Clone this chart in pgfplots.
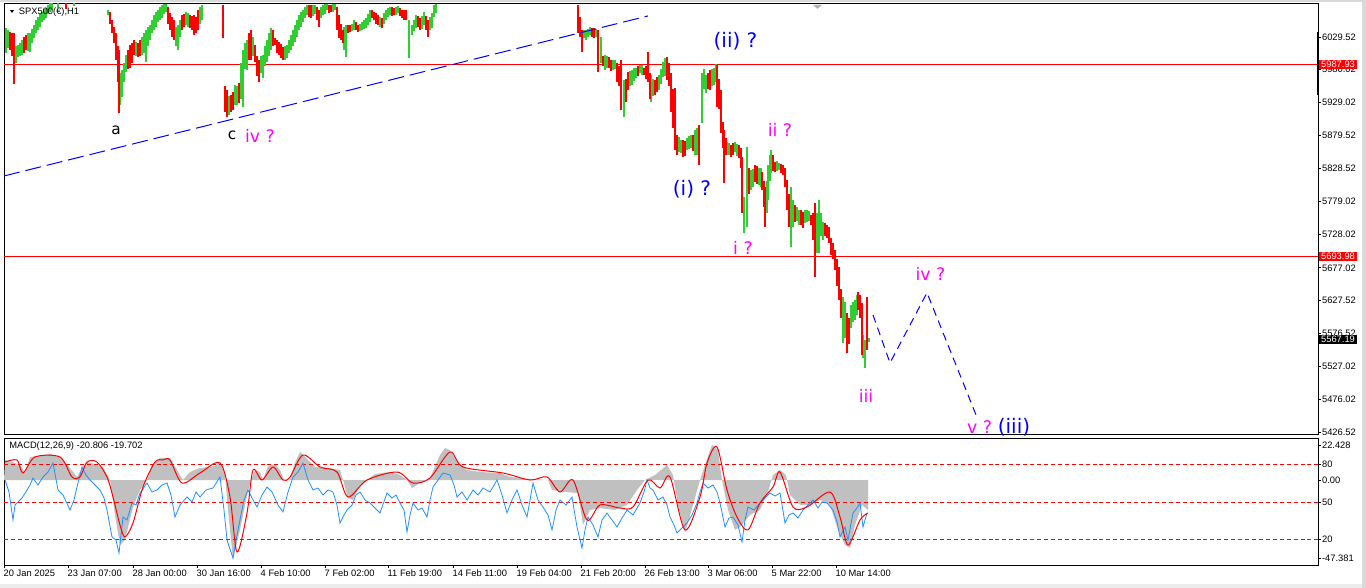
\documentclass[border=0pt]{standalone}
\usepackage{pgfplots}
\pgfplotsset{compat=1.18}
\usepackage{pgfplotstable}
\usepackage{fontspec}
\setmainfont{Liberation Sans}
\newfontfamily\dv{DejaVu Sans}
\definecolor{upg}{RGB}{50,205,50}
\definecolor{dnr}{RGB}{255,0,0}
\definecolor{hist}{RGB}{192,192,192}
\definecolor{macdblue}{RGB}{30,144,255}
\definecolor{wblue}{RGB}{0,0,255}
\definecolor{mag}{RGB}{255,0,255}
\newcommand{\tf}{\fontsize{7}{8}\selectfont}

% price bars (x in chart pixels, low and high prices)
\pgfplotstableread{
x lo hi
6 6005 6043
8 6012 6040
16 5990 6015
18 5999 6017
20 6000 6020
22 6002 6025
28 6008 6035
30 6007 6036
32 6020 6042
34 6028 6048
36 6035 6055
38 6040 6060
40 6045 6064
42 6052 6068
44 6055 6072
46 6059 6074
48 6064 6078
50 6068 6081
52 6070 6082
58 6074 6083
74 6077 6083
108 6063 6071
120 5925 5975
122 5938 5979
124 5960 5990
126 5976 6002
136 6000 6022
142 6002 6030
144 6005 6035
146 5991 6040
148 6015 6045
150 6025 6048
152 6035 6055
154 6040 6063
156 6045 6068
158 6052 6071
160 6055 6075
162 6059 6078
164 6065 6080
166 6068 6080
176 6015 6045
178 6010 6048
180 6030 6055
186 6048 6068
188 6045 6066
200 6050 6075
202 6055 6078
229 5910 5940
235 5926 5956
237 5925 5955
241 5935 5990
243 5923 6010
245 5980 6020
247 5979 6025
253 6000 6030
261 5975 6000
263 5967 6002
265 5985 6015
267 5991 6025
269 6000 6035
271 6010 6043
285 5995 6015
287 5997 6017
289 6005 6025
291 6010 6033
293 6015 6040
295 6022 6048
297 6030 6055
299 6040 6063
301 6045 6068
303 6052 6071
305 6058 6076
307 6063 6078
313 6062 6078
315 6065 6078
321 6058 6075
323 6063 6078
325 6065 6080
327 6071 6080
333 6068 6080
335 6071 6080
344 6010 6045
346 5999 6048
352 6038 6050
354 6040 6055
360 6038 6050
362 6040 6052
364 6042 6056
366 6043 6059
368 6048 6064
370 6052 6071
380 6045 6060
384 6050 6066
386 6055 6071
388 6060 6073
390 6063 6075
396 6063 6076
398 6066 6077
409 5997 6055
412 6033 6048
414 6038 6055
416 6043 6063
422 6042 6062
424 6048 6068
430 6040 6060
432 6043 6066
434 6060 6078
436 6066 6080
584 6028 6040
586 6025 6040
588 6030 6042
590 6033 6045
596 6030 6042
601 5990 6030
605 5979 6002
607 5982 6000
613 5979 5994
615 5980 5995
624 5907 5964
630 5955 5978
632 5956 5979
634 5962 5982
636 5967 5982
640 5975 5987
642 5972 5986
651 5930 5971
653 5940 5965
659 5949 5971
661 5958 5980
663 5968 5991
665 5970 5998
679 5854 5877
681 5852 5872
687 5857 5875
689 5858 5878
691 5860 5880
695 5849 5888
697 5850 5890
702 5898 5975
704 5950 5980
706 5944 5971
712 5955 5980
714 5956 5982
716 5960 5988
727 5849 5869
729 5850 5868
735 5854 5869
737 5848 5866
744 5730 5785
747 5739 5862
751 5796 5826
753 5800 5828
759 5804 5830
761 5800 5830
767 5760 5810
768 5781 5834
770 5810 5850
771 5822 5857
777 5825 5840
779 5826 5837
791 5709 5801
793 5740 5780
797 5748 5770
799 5743 5765
805 5745 5765
807 5747 5765
809 5748 5764
817 5700 5760
819 5700 5781
821 5725 5760
823 5720 5747
843 5562 5633
845 5570 5625
851 5585 5620
853 5595 5625
855 5597 5628
857 5605 5635
863 5540 5575
865 5524 5567
869 5564 5570
}\upbars

\pgfplotstableread{
x lo hi
10 6010 6037
12 6000 6035
14 5958 6036
24 6005 6030
26 6010 6033
66 6072 6081
110 6050 6068
112 6036 6055
114 6020 6045
116 5994 6036
118 5960 6015
119 5913 6010
128 5980 6010
130 5982 6017
132 5990 6020
134 6002 6025
138 5999 6020
140 6000 6025
168 6050 6075
170 6040 6066
172 6030 6060
174 6025 6055
182 6040 6063
184 6045 6065
190 6043 6063
192 6040 6062
194 6033 6063
196 6035 6060
198 6040 6071
223 6028 6078
225 5915 5955
227 5907 5949
231 5915 5941
233 5918 5945
239 5929 5959
249 5995 6035
251 5994 6040
255 5991 6017
257 5970 6000
259 5961 5994
273 6015 6040
275 6017 6028
277 6005 6025
279 6002 6022
281 5998 6018
283 5994 6014
309 6060 6078
311 6059 6078
317 6055 6075
319 6045 6071
329 6066 6078
331 6068 6078
337 6040 6075
339 6028 6063
341 6025 6050
343 6020 6040
348 6035 6048
350 6037 6048
356 6040 6052
358 6037 6048
372 6058 6070
374 6055 6068
376 6050 6066
378 6048 6063
382 6043 6059
392 6062 6075
394 6063 6074
400 6062 6074
402 6059 6071
404 6055 6070
406 6055 6071
418 6045 6062
420 6040 6059
426 6040 6062
428 6030 6055
578 6036 6078
580 6030 6060
582 6007 6040
592 6030 6043
594 6028 6043
598 5976 6040
603 5985 6000
609 5982 5999
611 5978 5995
617 5961 5990
619 5955 5985
621 5918 5994
626 5930 5965
628 5949 5976
638 5970 5985
644 5971 5982
646 5965 5985
648 5961 6007
650 5935 5975
655 5941 5964
657 5945 5968
667 5964 5999
669 5955 5990
671 5915 5975
673 5890 5950
675 5857 5952
677 5850 5880
683 5846 5872
685 5848 5870
693 5855 5880
699 5834 5895
708 5950 5975
710 5949 5979
717 5923 5987
719 5920 5965
721 5883 5949
723 5860 5900
724 5807 5888
726 5850 5875
731 5846 5865
733 5850 5868
739 5845 5865
741 5830 5860
742 5761 5846
749 5790 5830
755 5808 5834
757 5805 5832
762 5796 5823
764 5770 5810
765 5739 5801
773 5825 5850
775 5823 5839
781 5822 5836
783 5819 5834
785 5800 5830
787 5765 5811
789 5740 5790
795 5747 5773
801 5742 5765
803 5738 5762
811 5743 5758
813 5720 5760
815 5663 5776
825 5725 5745
827 5723 5743
829 5715 5740
831 5697 5723
833 5690 5715
835 5674 5704
837 5650 5690
839 5628 5678
841 5600 5645
847 5547 5608
849 5560 5600
858 5613 5640
860 5600 5635
862 5544 5623
867 5552 5633
}\dnbars

\begin{document}
\begin{tikzpicture}
\useasboundingbox (0,0) rectangle (1024.5pt,-441pt);
\fill[gray!30] (0,0) rectangle (1024.5pt,-1.2pt);
\fill[gray!15] (0,-438pt) rectangle (1024.5pt,-441pt);
\fill[gray!30] (1021.5pt,0) rectangle (1024.5pt,-441pt);

% ---------------- main price panel ----------------
\begin{axis}[
  at={(3pt,-3pt)}, anchor=north west, scale only axis,
  width=985.5pt, height=323.25pt,
  xmin=4, xmax=1318, ymin=5421.9, ymax=6079.9,
  clip mode=individual,
  axis line style={black, line width=0.75pt},
  xtick=\empty,
  ytick pos=right, yticklabel pos=right,
  ytick={6029.52,5980.02,5929.02,5879.52,5828.52,5779.02,5728.02,5677.02,5627.52,5576.52,5527.02,5476.02,5426.52},
  yticklabels={6029.52,5980.02,5929.02,5879.52,5828.52,5779.02,5728.02,5677.02,5627.52,5576.52,5527.02,5476.02,5426.52},
  tick align=outside, major tick length=2.25pt,
  tick style={black, line width=0.6pt},
  yticklabel style={font=\tf, anchor=west, inner sep=0.6pt},
  barstyle/.style={only marks, mark=*, mark size=0pt,
     mark options={draw opacity=0, fill opacity=0}, forget plot},
]
\addplot[dnr, line width=0.75pt, forget plot] coordinates {(4,5987.93) (1318,5987.93)};
\addplot[dnr, line width=0.75pt, forget plot] coordinates {(4,5693.98) (1318,5693.98)};
\addplot[hist, line width=0.75pt, forget plot] coordinates {(4,5567.19) (1318,5567.19)};

\addplot[barstyle,
  error bars/.cd, y dir=plus, y explicit, error mark=none,
  error bar style={line width=1.35pt, draw=upg}]
  table[x=x, y=lo, y error plus expr=\thisrow{hi}-\thisrow{lo}] {\upbars};
\addplot[barstyle,
  error bars/.cd, y dir=plus, y explicit, error mark=none,
  error bar style={line width=1.35pt, draw=dnr}]
  table[x=x, y=lo, y error plus expr=\thisrow{hi}-\thisrow{lo}] {\dnbars};

\addplot[wblue, line width=0.75pt, dash pattern=on 12pt off 4.5pt, forget plot]
  coordinates {(4,5817.3) (648,6061.6)};
\addplot[wblue, line width=0.75pt, dash pattern=on 6pt off 4pt, forget plot]
  coordinates {(873,5605) (890,5532) (927,5639) (976,5452.5)};

\node[anchor=base, font=\dv\fontsize{11.5}{13}\selectfont] at (axis cs:116,5879.9) {a};
\node[anchor=base, font=\dv\fontsize{11.5}{13}\selectfont] at (axis cs:232,5872.3) {c};
\node[anchor=base, text=mag, font=\dv\fontsize{13}{15}\selectfont] at (axis cs:260,5867.7) {iv ?};
\node[anchor=base, text=wblue, font=\dv\fontsize{15}{17}\selectfont] at (axis cs:735.5,6012.7) {(ii) ?};
\node[anchor=base, text=wblue, font=\dv\fontsize{15}{17}\selectfont] at (axis cs:692,5786.8) {(i) ?};
\node[anchor=base, text=mag, font=\dv\fontsize{13}{15}\selectfont] at (axis cs:780,5876.9) {ii ?};
\node[anchor=base, text=mag, font=\dv\fontsize{13}{15}\selectfont] at (axis cs:743,5696.7) {i ?};
\node[anchor=base, text=mag, font=\dv\fontsize{13}{15}\selectfont] at (axis cs:866,5470.8) {iii};
\node[anchor=base, text=mag, font=\dv\fontsize{13}{15}\selectfont] at (axis cs:930.5,5657) {iv ?};
\node[anchor=base, text=mag, font=\dv\fontsize{13}{15}\selectfont] at (axis cs:979.5,5423.5) {v ?};
\node[anchor=base, text=wblue, font=\dv\fontsize{15}{17}\selectfont] at (axis cs:1014,5423.5) {(iii)};

\draw[line width=2.2pt] (axis cs:1318,6037.1) -- (axis cs:1318,5941.0);
\fill[gray!60] (axis cs:813,6078.4) -- (axis cs:822,6078.4) -- (axis cs:817.5,6072.3) -- cycle;

\node[fill=dnr, text=white, anchor=west, inner xsep=1.4pt, inner ysep=0.8pt, text height=5pt, text depth=0.4pt, font=\tf] at (axis cs:1319,5987.93) {5987.93};
\node[fill=dnr, text=white, anchor=west, inner xsep=1.4pt, inner ysep=0.8pt, text height=5pt, text depth=0.4pt, font=\tf] at (axis cs:1319,5693.98) {5693.98};
\node[fill=black, text=white, anchor=west, inner xsep=1.4pt, inner ysep=0.8pt, text height=5pt, text depth=0.4pt, font=\tf] at (axis cs:1319,5567.19) {5567.19};
\end{axis}

\fill (7.5pt,-7.6pt) -- (10.5pt,-7.6pt) -- (9pt,-9.8pt) -- cycle;
\node[anchor=west, inner sep=0pt, font=\tf] at (14pt,-9pt) {SPX500(€),H1};

% ---------------- MACD panel ----------------
\begin{axis}[
  at={(3pt,-328.5pt)}, anchor=north west, scale only axis,
  width=985.5pt, height=95.25pt,
  xmin=4, xmax=1318, ymin=-85, ymax=42,
  clip mode=individual,
  axis line style={black, line width=0.75pt},
  xtick={4,68,133,197,261,325,388,453,517,581,645,708,772,836},
  xticklabels={20 Jan 2025,23 Jan 07:00,28 Jan 00:00,30 Jan 16:00,4 Feb 10:00,7 Feb 02:00,11 Feb 19:00,14 Feb 11:00,19 Feb 04:00,21 Feb 20:00,26 Feb 13:00,3 Mar 06:00,5 Mar 22:00,10 Mar 14:00},
  xtick pos=bottom,
  xticklabel style={font=\tf, anchor=north west, inner sep=0pt, yshift=-1.2pt, xshift=-0.4pt},
  ytick pos=right, yticklabel pos=right,
  ytick={35,16,0,-22,-59,-78},
  yticklabels={22.428,80,0.00,50,20,-47.381},
  yticklabel style={font=\tf, anchor=west, inner sep=0.6pt},
  tick align=outside, major tick length=2.25pt,
  tick style={black, line width=0.6pt},
]
\addplot[fill=hist, draw=none, forget plot] coordinates {
(4,0) (5,20) (15,17) (20,15) (25,7) (30,23) (45,25) (50,26) (60,23) (70,12) (77,3) (82,12) (87,18) (95,16) (103,13) (110,0)
(115,-35) (120,-65) (125,-60) (133,-27) (140,-10) (147,0) (152,15) (160,22) (170,22) (177,10) (183,0) (190,8) (200,12)
(215,14) (220,18) (225,5) (228,-30) (233,-80) (240,-50) (247,-15) (251,0) (255,10) (260,8) (263,0) (268,14) (275,16)
(280,10) (284,0) (290,0) (294,15) (300,28) (308,20) (315,13) (330,12) (340,10) (343,0) (348,-18) (353,-20) (360,-5)
(367,0) (375,6) (390,8) (400,5) (407,0) (412,-8) (420,-3) (430,2) (440,25) (445,32) (450,30) (457,18) (467,10) (480,8)
(500,7) (510,3) (530,1) (548,0) (552,-10) (565,-12) (578,-13) (583,-45) (590,-30) (600,-28) (615,-30) (627,-25)
(637,-10) (645,0) (655,5) (667,15) (673,5) (678,-25) (685,-53) (693,-25) (700,0) (705,15) (712,35) (718,30) (722,0)
(728,-30) (735,-50) (742,-45) (750,-35) (760,-30) (768,-12) (773,5) (780,10) (786,5) (790,-15) (800,-25) (810,-25)
(820,-20) (830,-25) (838,-50) (845,-65) (850,-68) (855,-45) (862,-25) (868,-30) (868,0)};

\addplot[dnr, line width=0.75pt, dash pattern=on 3pt off 2.2pt, forget plot] coordinates {(4,16) (1318,16)};
\addplot[dnr, line width=0.75pt, dash pattern=on 3pt off 2.2pt, forget plot] coordinates {(4,-22) (1318,-22)};
\addplot[dnr, line width=0.75pt, dash pattern=on 3pt off 2.2pt, forget plot] coordinates {(4,-59) (1318,-59)};

\addplot[macdblue, line width=0.6pt, forget plot] coordinates {
(5,0) (9,-12) (13,-40) (15,-25) (18,-22) (22,-18) (27,-10) (30,-5) (33,2) (38,-5) (43,3) (48,8) (53,17) (58,-10) (63,-15)
(70,-30) (74,-20) (77,-7) (82,13) (86,5) (90,0) (95,-5) (100,-10) (104,-18) (107,-30) (112,-57) (116,-60) (119,-73)
(123,-37) (127,-40) (132,-23) (136,-25) (140,-13) (147,-3) (152,-12) (157,-10) (162,-5) (167,-3) (171,-15) (175,-37)
(180,-25) (187,-17) (192,-22) (196,-12) (200,-17) (206,-10) (213,-8) (220,3) (224,-30) (227,-60) (233,-78) (237,-55)
(240,-40) (244,-20) (248,-10) (252,-18) (257,-27) (262,-15) (267,-7) (272,-12) (278,-25) (283,-32) (288,-12) (293,3)
(298,8) (303,17) (308,0) (313,-10) (318,-8) (323,-15) (328,-10) (333,-12) (337,-25) (340,-43) (344,-35) (347,-30)
(352,-25) (356,-15) (360,-12) (365,-20) (370,-23) (375,-28) (380,-33) (387,-13) (392,-18) (396,-15) (400,-23) (404,-30)
(407,-52) (410,-35) (413,-23) (418,-30) (422,-28) (427,-37) (430,-20) (433,-7) (438,0) (443,7) (450,5) (454,-5)
(457,-17) (462,-12) (467,-20) (473,-10) (478,-15) (483,-8) (490,-12) (497,0) (502,-15) (507,-33) (512,-20) (517,-10)
(522,-25) (527,-37) (533,-3) (538,-20) (543,-27) (548,-35) (552,-50) (556,-30) (560,-20) (566,-25) (572,-17) (577,-47)
(582,-68) (585,-50) (588,-37) (593,-45) (598,-57) (602,-40) (607,-33) (612,-40) (617,-47) (622,-38) (627,-30) (633,-35)
(640,-23) (644,-12) (647,0) (650,-8) (653,-10) (658,-20) (663,-17) (667,-25) (670,-37) (674,-45) (677,-53) (682,-48)
(687,-43) (692,-35) (697,-23) (700,-12) (703,-3) (708,-8) (713,-5) (717,-12) (720,-23) (725,-47) (729,-38) (733,-37)
(738,-45) (742,-62) (745,-40) (748,-27) (754,-30) (760,-23) (765,-18) (770,-13) (775,-16) (780,-13) (785,-43) (789,-35)
(793,-33) (798,-38) (803,-30) (808,-25) (813,-20) (818,-28) (822,-22) (827,-23) (833,-30) (837,-42) (840,-57) (845,-47)
(848,-60) (853,-33) (857,-28) (860,-23) (863,-47) (867,-33)};

\addplot[dnr, line width=0.75pt, smooth, tension=0.5, forget plot] coordinates {
(5,18) (17,20) (23,7) (35,23) (60,23) (72,3) (80,3) (87,18) (97,18) (107,3) (113,-17) (120,-45) (125,-57) (133,-43)
(143,-7) (155,18) (163,20) (170,20) (182,-3) (200,7) (220,17) (230,-17) (237,-72) (247,-33) (253,10) (262,0) (273,13)
(283,0) (290,3) (303,25) (320,13) (337,8) (348,-17) (367,0) (397,8) (413,-3) (430,2) (450,28) (463,13) (503,7) (530,0)
(547,3) (560,-12) (573,0) (587,-40) (600,-25) (620,-28) (633,-27) (648,0) (660,-8) (670,3) (685,-50) (700,-17) (707,17)
(717,33) (727,-10) (737,-37) (748,-50) (760,-23) (773,-7) (780,8) (793,-27) (807,-27) (830,-12) (840,-37) (848,-65)
(860,-40) (868,-33)};
\end{axis}
\node[anchor=west, inner sep=0pt, font=\tf] at (6.75pt,-334.5pt) {MACD(12,26,9) -20.806 -19.702};
\end{tikzpicture}
\end{document}
